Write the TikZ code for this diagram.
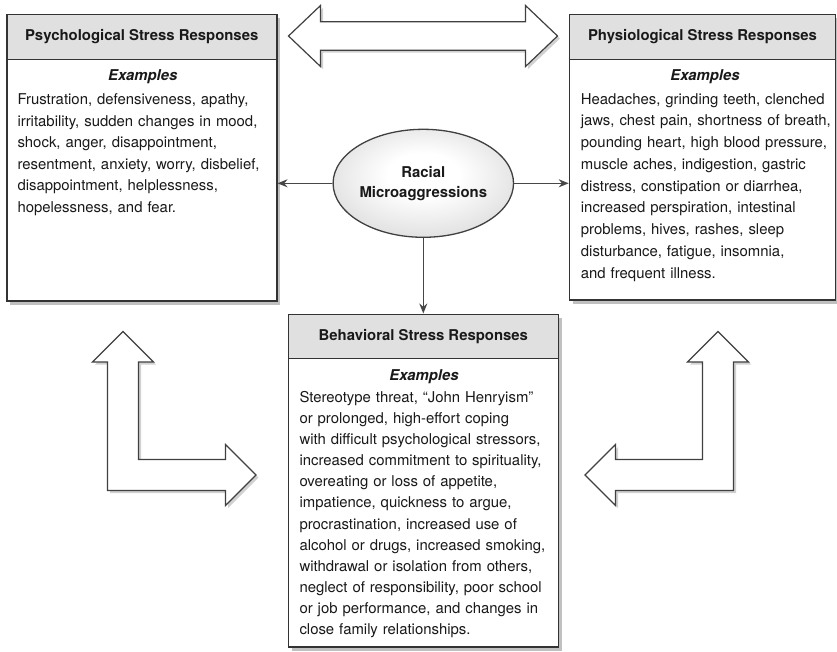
\documentclass[tikz,border=0pt]{standalone}
\usepackage{fontspec}
\setmainfont{TeX Gyre Heros}
\usetikzlibrary{shapes.geometric,arrows.meta,shadows}
\pgfdeclareradialshading{ballshade}{\pgfpoint{0bp}{5bp}}{color(0bp)=(white); color(10bp)=(white); color(28bp)=(black!12); color(42bp)=(black!28); color(50bp)=(black!40)}
\begin{document}
\begin{tikzpicture}[x=1pt,y=-1pt,
  boxshadow/.style={drop shadow={shadow xshift=3.5pt,shadow yshift=-3.5pt,fill=black!45,opacity=0.55}},
  hdr/.style={draw=black!80,line width=1.6pt,fill=black!12,inner sep=0pt,text=black!90,
    font=\fontsize{14.9}{18}\selectfont\bfseries,boxshadow},
  bodybox/.style={draw=black!80,line width=1.6pt,fill=white,inner sep=0pt,boxshadow},
  extitle/.style={inner sep=0pt,text=black!90,font=\fontsize{14.9}{18}\selectfont\bfseries\itshape},
  bodytext/.style={anchor=base west,inner sep=0pt,text width=300pt,align=left,text=black!90},
  conn/.style={draw=black!72,line width=1.5pt,-{Stealth[length=10pt,width=8pt]}},
  bigarrow/.style={draw=black!75,line width=1.2pt,fill=white,line join=miter,
    drop shadow={shadow xshift=2.5pt,shadow yshift=-2.5pt,fill=black!40,opacity=0.45}}]
\useasboundingbox (0,0) rectangle (837,651);

% big hollow arrows
\draw[bigarrow] (288.5,36) -- (320.5,5.5) -- (320.5,21.8) -- (525.5,21.8) -- (525.5,5.5)
  -- (557.5,36) -- (525.5,66.5) -- (525.5,50.2) -- (320.5,50.2) -- (320.5,66.5) -- cycle;
\draw[bigarrow] (123,331.5) -- (153.5,362) -- (138.5,362) -- (138.5,459.5) -- (225.5,459.5)
  -- (225.5,444.5) -- (256,475) -- (225.5,505.5) -- (225.5,490.5) -- (107.5,490.5)
  -- (107.5,362) -- (92.5,362) -- cycle;
\draw[bigarrow] (718,331.5) -- (748.5,362) -- (733.5,362) -- (733.5,490.5) -- (615.5,490.5)
  -- (615.5,505.5) -- (585,475) -- (615.5,444.5) -- (615.5,459.5) -- (702.5,459.5)
  -- (702.5,362) -- (687.5,362) -- cycle;

% psychological
\node[hdr,minimum width=270pt,minimum height=45pt] (psyhead) at (141.7,36.8) {Psychological Stress Responses};
\node[bodybox,minimum width=270pt,minimum height=241.7pt] (psybody) at (141.7,180.15) {};
\node[extitle] (psyex) at (142.7,76.5) {Examples};
\node[bodytext,font=\fontsize{14.9}{21.6}\selectfont] (psytext) at (17.3,104.5)
 {Frustration, defensiveness, apathy,\\
  irritability, sudden changes in mood,\\
  shock, anger, disappointment,\\
  resentment, anxiety, worry, disbelief,\\
  disappointment, helplessness,\\
  hopelessness, and fear.};

% physiological
\node[hdr,minimum width=266pt,minimum height=45pt] (phyhead) at (702.5,36.8) {Physiological Stress Responses};
\node[bodybox,minimum width=266pt,minimum height=240.7pt] (phybody) at (702.5,179.65) {};
\node[extitle] (phyex) at (705,76.5) {Examples};
\node[bodytext,font=\fontsize{14.9}{21.75}\selectfont] (phytext) at (580.7,104)
 {Headaches, grinding teeth, clenched\\
  jaws, chest pain, shortness of breath,\\
  pounding heart, high blood pressure,\\
  muscle aches, indigestion, gastric\\
  distress, constipation or diarrhea,\\
  increased perspiration, intestinal\\
  problems, hives, rashes, sleep\\
  disturbance, fatigue, insomnia,\\
  and frequent illness.};

% behavioral
\node[hdr,minimum width=270pt,minimum height=44pt] (behhead) at (423.3,336.3) {Behavioral Stress Responses};
\node[bodybox,minimum width=270pt,minimum height=288.7pt] (behbody) at (423.3,502.65) {};
\node[extitle] (behex) at (424,377) {Examples};
\node[bodytext,font=\fontsize{14.9}{21.1}\selectfont] (behtext) at (299.3,402.4)
 {Stereotype threat, “John Henryism”\\
  or prolonged, high-effort coping\\
  with difficult psychological stressors,\\
  increased commitment to spirituality,\\
  overeating or loss of appetite,\\
  impatience, quickness to argue,\\
  procrastination, increased use of\\
  alcohol or drugs, increased smoking,\\
  withdrawal or isolation from others,\\
  neglect of responsibility, poor school\\
  or job performance, and changes in\\
  close family relationships.};

% central ellipse
\node[ellipse,draw=black!75,line width=1.3pt,shading=ballshade,minimum width=146.7pt,
  minimum height=108pt,inner sep=0pt,align=center,text=black!90,
  font=\fontsize{14.9}{20}\selectfont\bfseries] (rm) at (423.3,183.3) {Racial\\Microaggressions};

\draw[conn] (rm.west) -- (rm.west -| psybody.east);
\draw[conn] (rm.east) -- (rm.east -| phybody.west);
\draw[conn] (rm.south) -- (behhead.north);
\end{tikzpicture}
\end{document}
